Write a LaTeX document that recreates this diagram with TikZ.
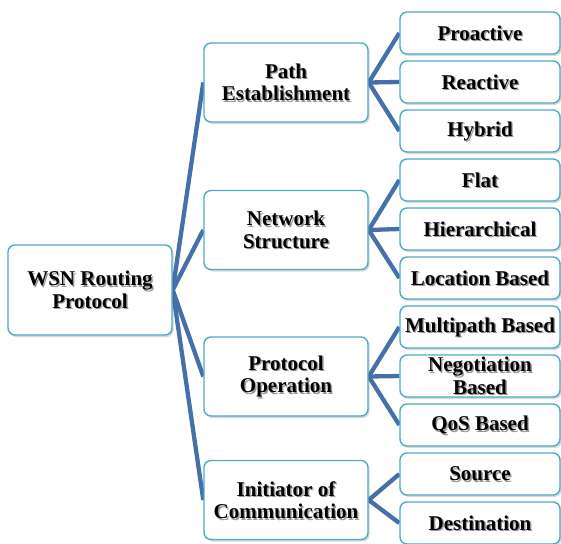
\documentclass[tikz,border=0pt]{standalone}
\usepackage{fontspec}
\setmainfont{Liberation Serif}[BoldFont={Liberation Serif Bold}]
\usetikzlibrary{shadows,backgrounds}
\definecolor{boxline}{HTML}{4BACC6}
\definecolor{linkblue}{HTML}{4670A8}
\tikzset{
  card/.style={draw=boxline, line width=1.4pt, fill=white, rounded corners=7pt,
    drop shadow={shadow xshift=1.6pt, shadow yshift=-2pt, opacity=0.22, fill=black!70}},
  cardtext/.style={font=\bfseries\fontsize{21}{22.5}\selectfont, align=center, inner sep=0pt},
  cardshade/.style={cardtext, text=black!40},
  link/.style={draw=linkblue, line width=4.3pt},
}
% \card{name}{x}{y}{width}{height}{text}: box with a soft shadow and shadowed label
\newcommand\card[6]{%
  \node[card, minimum width=#4pt, minimum height=#5pt] (#1) at (#2,#3) {};
  \node[cardshade] at ([shift={(1.4pt,-1.5pt)}]#1) {#6};
  \node[cardtext] (#1-label) at (#1) {#6};
}
\begin{document}
\begin{tikzpicture}[x=1pt,y=-1pt]
\useasboundingbox (0,0) rectangle (561,543);

% root
\card{root}{90}{290}{164}{90}{WSN Routing\\Protocol}

% second level
\card{path}{286}{82.5}{164}{79}{Path\\Establishment}
\card{net}{286}{230}{164}{79}{Network\\Structure}
\card{oper}{286}{376.5}{164}{79}{Protocol\\Operation}
\card{init}{286}{500}{164}{79}{Initiator of\\Communication}

% leaves
\card{pro}{480}{33}{160}{42}{Proactive}
\card{rea}{480}{82}{160}{42}{Reactive}
\card{hyb}{480}{131}{160}{42}{Hybrid}
\card{flat}{480}{180}{160}{42}{Flat}
\card{hier}{480}{229}{160}{42}{Hierarchical}
\card{loc}{480}{278}{160}{42}{Location Based}
\card{multi}{480}{327}{160}{42}{Multipath Based}
\card{nego}{480}{376}{160}{42}{Negotiation\\Based}
\card{qos}{480}{425}{160}{42}{QoS Based}
\card{src}{480}{474}{160}{42}{Source}
\card{dst}{480}{523}{160}{42}{Destination}

% connectors behind the boxes
\begin{scope}[on background layer]
  \foreach \t in {path,net,oper,init} \draw[link] (root.east) -- (\t.west);
  \foreach \t in {pro,rea,hyb} \draw[link] (path.east) -- (\t.west);
  \foreach \t in {flat,hier,loc} \draw[link] (net.east) -- (\t.west);
  \foreach \t in {multi,nego,qos} \draw[link] (oper.east) -- (\t.west);
  \foreach \t in {src,dst} \draw[link] (init.east) -- (\t.west);
\end{scope}
\end{tikzpicture}
\end{document}
